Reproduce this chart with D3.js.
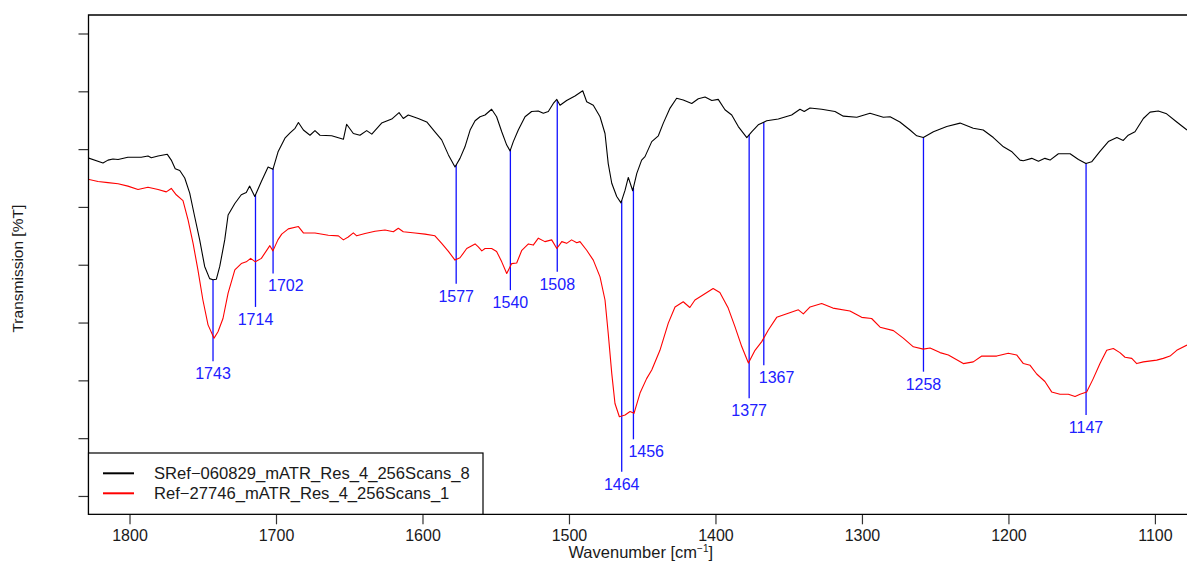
<!DOCTYPE html>
<html>
<head>
<meta charset="utf-8">
<script src="https://cdn.jsdelivr.net/npm/d3@7"></script>
<style>
  html, body { margin: 0; padding: 0; background: #ffffff; }
  svg { display: block; font-family: "Liberation Sans", Arial, Helvetica, sans-serif; }
</style>
</head>
<body>
<svg id="chart" width="1187" height="562"></svg>
<script>
// ---------- data ----------
const wavenumberTicks = [1800, 1700, 1600, 1500, 1400, 1300, 1200, 1100];
const transmissionTicks = [20, 30, 40, 50, 60, 70, 80, 90, 100];

const seriesNames = ["SRef\u2212060829_mATR_Res_4_256Scans_8", "Ref\u221227746_mATR_Res_4_256Scans_1"];
const seriesColors = ["#000000", "#ff0000"];

const blackWavenumber = [
  1828.4,1818.1,1814.7,1811.3,1807.8,1801.1,1792.0,1787.4,1785.1,1780.5,
  1774.2,1771.5,1768.8,1765.7,1762.3,1758.9,1755.5,1752.1,1748.7,1745.3,
  1743.0,1740.7,1738.4,1735.0,1732.7,1728.1,1723.7,1720.3,1718.0,1714.5,
  1710.0,1705.4,1702.1,1698.5,1693.9,1690.4,1687.0,1684.7,1681.3,1676.8,
  1673.4,1670.0,1662.0,1654.0,1651.8,1647.2,1642.7,1638.1,1634.6,1627.9,
  1621.0,1616.0,1613.1,1609.7,1602.9,1597.1,1591.5,1586.9,1582.3,1577.8,
  1574.4,1571.0,1567.5,1564.1,1560.7,1557.3,1552.8,1549.4,1545.9,1542.5,
  1540.2,1538.0,1534.6,1530.0,1525.5,1521.0,1517.5,1514.1,1510.7,1508.3,
  1506.1,1501.6,1495.9,1490.6,1487.9,1483.4,1478.8,1475.4,1473.2,1470.8,
  1467.4,1464.5,1461.7,1459.5,1456.5,1453.7,1450.4,1448.1,1443.5,1439.0,
  1435.6,1431.0,1426.5,1422.0,1416.2,1411.7,1407.1,1402.5,1398.1,1393.5,
  1388.9,1384.4,1378.6,1375.3,1370.8,1365.0,1357.1,1348.0,1342.3,1339.4,
  1335.5,1327.5,1318.4,1312.7,1303.5,1294.5,1285.4,1280.8,1274.1,1267.2,
  1262.6,1258.1,1251.2,1242.1,1233.0,1224.0,1217.2,1210.3,1203.4,1197.9,
  1192.1,1189.8,1184.1,1179.5,1175.1,1171.6,1165.9,1157.9,1152.2,1147.1,
  1143.2,1137.5,1131.8,1126.0,1121.6,1118.2,1113.6,1107.9,1103.3,1097.7,
  1092.0,1085.1,1078.1
];
const blackTransmission = [
  78.5,77.6,78.1,78.3,78.2,78.6,78.6,78.8,78.5,78.8,
  79.1,78.1,76.6,76.3,75.0,72.4,68.3,64.3,59.7,57.6,
  57.4,57.5,59.7,64.3,68.6,70.6,72.1,72.5,73.6,71.8,
  74.4,76.9,76.5,79.6,81.9,82.8,83.6,84.6,83.3,82.4,
  83.2,82.4,82.3,81.7,84.3,82.7,82.4,83.2,82.6,84.5,
  85.2,86.3,85.3,85.9,85.3,84.7,83.0,81.6,79.0,76.9,
  78.4,80.4,83.3,84.9,85.6,85.9,86.9,85.6,83.0,80.7,
  79.7,81.3,83.3,85.6,86.5,86.6,86.2,86.5,87.9,88.6,
  87.6,88.4,89.2,90.1,88.2,87.6,85.6,82.7,77.5,74.1,
  71.8,70.7,72.9,75.1,72.8,75.8,78.1,78.7,81.3,82.3,
  84.5,87.1,88.8,88.5,87.9,88.7,89.0,88.4,88.6,86.8,
  85.9,83.9,82.0,83.0,84.2,84.9,85.2,85.9,86.9,86.5,
  87.1,86.9,86.5,85.7,85.5,86.2,85.5,85.6,84.7,83.3,
  82.3,82.0,83.0,83.9,84.5,83.6,83.3,82.0,80.4,79.6,
  78.1,78.0,78.4,77.9,78.4,78.1,79.2,79.2,78.2,77.5,
  77.8,79.6,81.3,82.0,81.5,82.4,83.0,85.3,86.4,86.6,
  86.1,84.7,83.3
];

const redWavenumber = [
  1828.4,1821.5,1814.7,1807.8,1801.1,1794.2,1787.4,1780.5,1774.9,1771.5,
  1768.1,1763.5,1760.0,1756.6,1753.3,1749.9,1746.4,1742.3,1739.6,1736.2,
  1732.7,1728.1,1723.7,1720.3,1717.3,1714.1,1710.0,1704.2,1702.1,1698.7,
  1696.1,1691.6,1684.7,1681.3,1673.4,1664.3,1657.4,1654.0,1650.7,1647.2,
  1644.9,1639.2,1632.4,1625.6,1619.9,1616.5,1613.1,1605.1,1598.3,1591.5,
  1586.9,1582.3,1577.8,1574.4,1569.8,1564.1,1561.9,1559.5,1557.3,1552.8,
  1549.4,1545.9,1542.5,1539.1,1535.7,1532.2,1527.7,1524.4,1520.9,1516.4,
  1511.8,1508.3,1504.9,1501.6,1498.2,1494.7,1492.5,1487.9,1483.4,1478.8,
  1475.4,1473.2,1470.8,1468.6,1465.6,1461.7,1458.3,1455.6,1451.5,1447.0,
  1443.5,1437.9,1432.2,1427.6,1422.0,1417.5,1414.0,1408.3,1401.6,1397.0,
  1391.3,1386.7,1382.0,1377.5,1373.0,1368.4,1363.9,1358.2,1350.3,1343.4,
  1340.0,1335.4,1327.5,1319.8,1308.2,1300.2,1293.4,1287.6,1278.5,1271.8,
  1264.9,1258.1,1253.5,1246.7,1241.0,1230.8,1224.0,1218.2,1208.0,1200.1,
  1194.4,1189.8,1185.2,1180.7,1175.1,1170.5,1164.8,1159.1,1154.5,1151.1,
  1146.6,1142.1,1137.5,1132.9,1128.4,1123.9,1120.4,1115.8,1112.4,1107.9,
  1098.8,1094.3,1089.7,1085.1,1078.1
];
const redTransmission = [
  74.8,74.4,74.2,74.0,73.6,73.0,73.4,73.0,72.6,73.2,
  72.1,71.1,67.7,63.7,59.1,53.9,49.6,47.3,48.4,50.7,
  55.1,59.1,60.2,60.5,61.1,60.5,61.1,63.3,62.4,64.3,
  65.3,66.2,66.6,65.5,65.5,65.1,65.0,64.3,64.8,65.5,
  65.0,65.4,65.8,66.0,65.7,66.3,65.7,65.5,65.3,65.0,
  63.7,62.3,60.8,61.2,62.8,63.6,63.1,62.4,62.8,62.8,
  62.3,60.5,58.5,60.2,60.3,62.5,63.6,63.4,64.6,64.0,
  64.3,62.8,64.0,63.7,64.3,63.8,64.0,62.5,60.8,57.9,
  53.9,48.1,41.2,36.0,33.7,34.0,34.6,34.3,37.8,40.3,
  41.8,45.2,49.9,52.7,53.6,52.6,53.9,54.8,55.9,55.2,
  52.5,49.3,45.8,43.0,45.2,46.7,48.7,50.9,51.6,52.2,
  51.5,52.7,53.3,52.5,52.0,50.9,50.7,49.2,48.6,47.3,
  45.8,45.4,45.6,44.8,44.4,42.9,43.2,44.2,44.2,44.7,
  44.4,42.9,42.6,41.1,39.8,38.0,37.6,37.6,37.2,37.6,
  38.0,40.3,42.9,45.2,45.5,44.8,44.0,43.8,42.9,43.2,
  43.5,43.8,44.2,45.2,46.1
];

const peakWavenumbers = [1743, 1714, 1702, 1577, 1540, 1508, 1464, 1456, 1377, 1367, 1258, 1147];
const peakLabelLevels = [43.3, 52.7, 58.5, 56.7, 55.6, 58.8, 24.2, 29.8, 36.9, 42.6, 41.5, 34.0];
// labels that are set beside (to the right of) their line instead of centred under it
const peaksLabelledRight = [1702, 1456, 1367];

// ---------- layout ----------
const W = 1187, H = 562;
const plot = { left: 88.5, right: 1187, top: 15, bottom: 514.3 };

const svg = d3.select("#chart");
svg.append("rect").attr("width", W).attr("height", H).attr("fill", "#fff");

const x = d3.scaleLinear().domain([1828.0, 1078.1]).range([plot.left, plot.right]);
const y = d3.scaleLinear().domain([16.83, 103.2]).range([plot.bottom, plot.top]);

svg.append("defs").append("clipPath").attr("id", "clip")
  .append("rect").attr("x", plot.left).attr("y", plot.top)
  .attr("width", plot.right - plot.left).attr("height", plot.bottom - plot.top);

const line = d3.line().x(d => x(d[0])).y(d => y(d[1]));

const seriesData = [
  d3.zip(blackWavenumber, blackTransmission),
  d3.zip(redWavenumber, redTransmission)
];

const g = svg.append("g").attr("clip-path", "url(#clip)");

function blackAt(w) {
  for (let i = 0; i < blackWavenumber.length - 1; i++) {
    const a = blackWavenumber[i], b = blackWavenumber[i + 1];
    if (w <= a && w >= b) {
      const t = (a - w) / (a - b);
      return blackTransmission[i] + t * (blackTransmission[i + 1] - blackTransmission[i]);
    }
  }
  return blackTransmission[blackTransmission.length - 1];
}

const peaks = peakWavenumbers.map((w, i) => ({
  w, top: blackAt(w), bottom: peakLabelLevels[i], right: peaksLabelledRight.includes(w)
}));

g.selectAll("line.peak").data(peaks).enter().append("line")
  .attr("class", "peak")
  .attr("x1", d => x(d.w)).attr("x2", d => x(d.w))
  .attr("y1", d => y(d.top)).attr("y2", d => y(d.bottom))
  .attr("stroke", "#1010ff").attr("stroke-width", 1.3);

g.selectAll("path.series").data(seriesData).enter().append("path")
  .attr("class", "series")
  .attr("d", line)
  .attr("fill", "none")
  .attr("stroke", (d, i) => seriesColors[i])
  .attr("stroke-width", 1.1)
  .attr("stroke-linejoin", "round");

svg.selectAll("text.peak").data(peaks).enter().append("text")
  .attr("class", "peak")
  .attr("x", d => d.right ? x(d.w) - 5 : x(d.w))
  .attr("y", d => y(d.bottom) + 18)
  .attr("text-anchor", d => d.right ? "start" : "middle")
  .attr("font-size", 16)
  .attr("fill", "#2020ff")
  .text(d => d.w);

// axes
const xAxis = d3.axisBottom(x).tickValues(wavenumberTicks).tickSize(10).tickPadding(5).tickFormat(d3.format("d"));
const gx = svg.append("g").attr("transform", `translate(0,${plot.bottom})`).call(xAxis);
gx.select(".domain").remove();
gx.selectAll(".tick line").attr("stroke", "#333").attr("stroke-width", 1.2);
gx.selectAll(".tick text").attr("font-size", 16).attr("fill", "#1a1a1a")
  .attr("font-family", "'Liberation Sans', Arial, sans-serif");

const yAxis = d3.axisLeft(y).tickValues(transmissionTicks).tickSize(10).tickFormat("");
const gy = svg.append("g").attr("transform", `translate(${plot.left},0)`).call(yAxis);
gy.select(".domain").remove();
gy.selectAll(".tick line").attr("stroke", "#333").attr("stroke-width", 1.2);

// frame
svg.append("path")
  .attr("d", `M${plot.right + 2},${plot.top}H${plot.left}V${plot.bottom}H${plot.right + 2}`)
  .attr("fill", "none").attr("stroke", "#000").attr("stroke-width", 1.3);

// axis titles
const xt = svg.append("text")
  .attr("x", (plot.left + plot.right) / 2 + 3).attr("y", 558)
  .attr("text-anchor", "middle").attr("font-size", 16.5).attr("fill", "#1a1a1a");
xt.append("tspan").text("Wavenumber [cm");
xt.append("tspan").attr("font-size", 10).attr("dy", -6).text("\u22121");
xt.append("tspan").attr("dy", 6).text("]");

svg.append("text")
  .attr("transform", `translate(23,${(plot.top + plot.bottom) / 2 + 4}) rotate(-90)`)
  .attr("text-anchor", "middle").attr("font-size", 15.5).attr("fill", "#1a1a1a")
  .text("Transmission [%T]");

// legend
const legend = svg.append("g");
legend.append("rect")
  .attr("x", plot.left).attr("y", 453)
  .attr("width", 483 - plot.left).attr("height", plot.bottom - 453)
  .attr("fill", "#fff").attr("stroke", "#000").attr("stroke-width", 1.2);
const legendRows = [473.3, 493.3];
seriesNames.forEach((name, i) => {
  legend.append("line")
    .attr("x1", 103).attr("x2", 134).attr("y1", legendRows[i]).attr("y2", legendRows[i])
    .attr("stroke", seriesColors[i]).attr("stroke-width", 2);
  legend.append("text")
    .attr("x", 154).attr("y", legendRows[i] + 6)
    .attr("font-size", 16.6).attr("fill", "#1a1a1a")
    .text(name);
});
</script>
</body>
</html>
